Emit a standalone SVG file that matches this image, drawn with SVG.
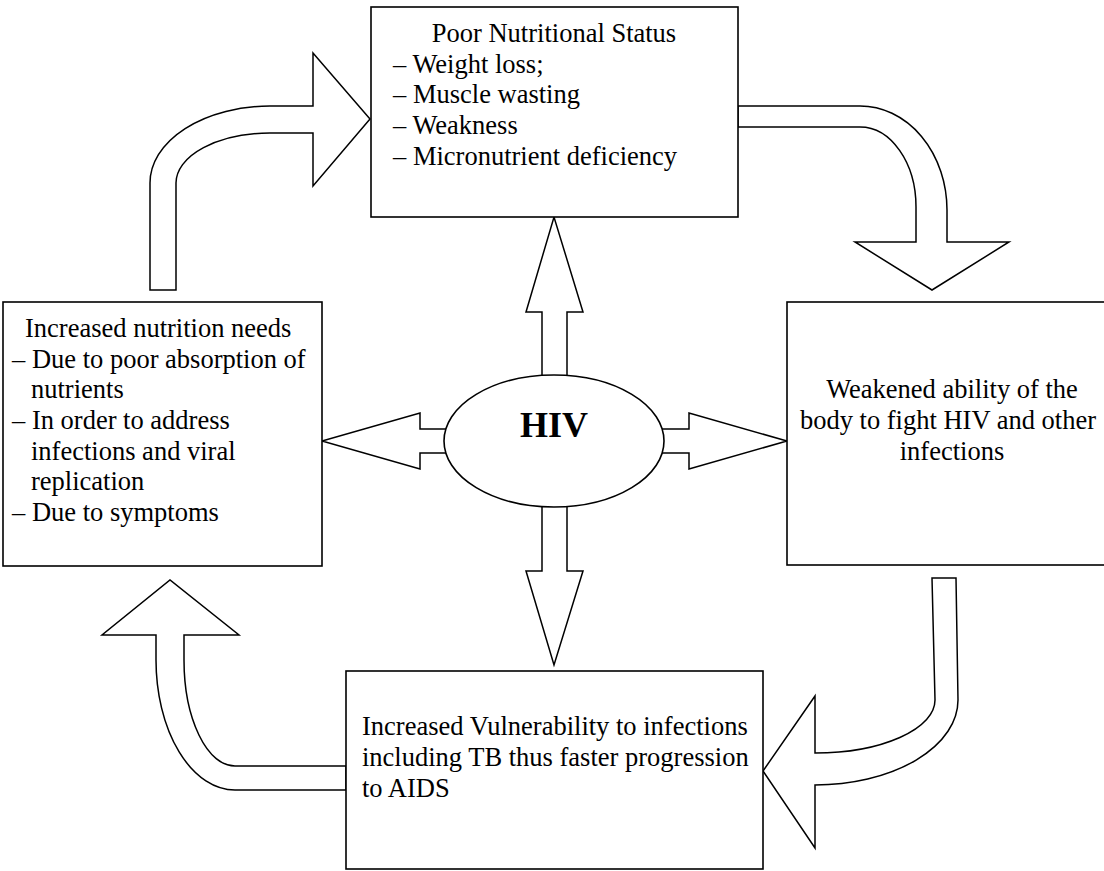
<svg xmlns="http://www.w3.org/2000/svg" width="1104" height="871" viewBox="0 0 1104 871">
<style>
.box{fill:#fff;stroke:#000;stroke-width:1.6}
.arr{fill:#fff;stroke:#000;stroke-width:1.5;stroke-linejoin:miter}
.t{font-family:"Liberation Serif","Times New Roman",serif;font-size:26.5px;fill:#000}
.c{text-anchor:middle}
.hiv{font-family:"Liberation Serif","Times New Roman",serif;font-size:36px;font-weight:bold;text-anchor:middle;fill:#000}
</style>
<rect width="1104" height="871" fill="#fff"/>
<g id="connectors">
<path class="arr" d="M150,290 L150,183 A120,77 0 0 1 270,106 L313,106 L313,53 L370,119 L313,186 L313,133 L270,133 A94,50 0 0 0 176,183 L176,290 Z"/>
<path class="arr" d="M738,106 L860,106 A87,104 0 0 1 947,210 L947,242 L1009,242 L932,290 L855,242 L916,242 L916,207 A56,80 0 0 0 860,127 L738,127 Z"/>
<path class="arr" d="M932,578 L956,578 L958,700 A143,85 0 0 1 815,785 L815,848 L763,771 L815,696 L815,753 A120,53 0 0 0 935,700 Z"/>
<path class="arr" d="M346,766 L235,766 A51,106 0 0 1 184,660 L184,635 L239,635 L170,580 L102,635 L156,635 L156,660 A79,130 0 0 0 235,790 L346,790 Z"/>
<path class="arr" d="M542,400 L542,312 L526,312 L554,217 L583,312 L567,312 L567,400 Z"/>
<path class="arr" d="M542,480 L542,571 L526,571 L554,665 L583,571 L567,571 L567,480 Z"/>
<path class="arr" d="M470,429 L420,429 L420,413 L322,441 L420,469 L420,453 L470,453 Z"/>
<path class="arr" d="M640,429 L689,429 L689,413 L787,441 L689,469 L689,453 L640,453 Z"/>
</g>
<g id="hiv">
<ellipse class="box" cx="554" cy="441" rx="110" ry="66"/>
<text class="hiv" x="554" y="437">HIV</text>
</g>
<g id="poor-nutrition">
<rect class="box" x="371" y="7" width="367" height="210"/>
<text class="t c" x="554" y="42">Poor Nutritional Status</text>
<text class="t" x="393" y="73">– Weight loss;</text>
<text class="t" x="393" y="103">– Muscle wasting</text>
<text class="t" x="393" y="134">– Weakness</text>
<text class="t" x="393" y="165">– Micronutrient deficiency</text>
</g>
<g id="increased-needs">
<rect class="box" x="3" y="302" width="319" height="264"/>
<text class="t" x="25" y="337">Increased nutrition needs</text>
<text class="t" x="12" y="368">– Due to poor absorption of</text>
<text class="t" x="31" y="398">nutrients</text>
<text class="t" x="12" y="429">– In order to address</text>
<text class="t" x="31" y="460">infections and viral</text>
<text class="t" x="31" y="490">replication</text>
<text class="t" x="12" y="521">– Due to symptoms</text>
</g>
<g id="weakened-ability">
<rect class="box" x="787" y="302" width="330" height="263"/>
<text class="t c" x="952" y="398">Weakened ability of the</text>
<text class="t c" x="948" y="429">body to fight HIV and other</text>
<text class="t c" x="952" y="460">infections</text>
</g>
<g id="vulnerability">
<rect class="box" x="346" y="671" width="417" height="198"/>
<text class="t" x="362" y="735">Increased Vulnerability to infections</text>
<text class="t" x="362" y="766">including TB thus faster progression</text>
<text class="t" x="362" y="797">to AIDS</text>
</g>
</svg>
